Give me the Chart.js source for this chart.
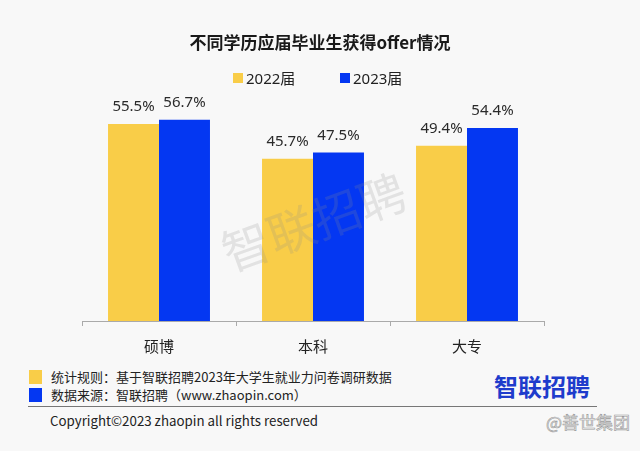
<!DOCTYPE html>
<html>
<head>
<meta charset="utf-8">
<script src="https://cdn.jsdelivr.net/npm/chart.js@4"></script>
<style>
  html, body { margin:0; padding:0; background:#f8f8f8; }
  body { width:640px; height:451px; position:relative; overflow:hidden;
         font-family:"Noto Sans","Noto Sans CJK SC",sans-serif; color:#222; }
  #wrap { position:absolute; left:0; top:0; width:640px; height:360px; }
  .abs { position:absolute; white-space:nowrap; }
  #title { left:0; width:640px; top:31px; text-align:center; font-weight:bold; font-size:17px;
           line-height:22px; color:#1a1a1a; font-family:"Noto Sans CJK SC","Noto Sans",sans-serif; }
  .lg-box { position:absolute; width:10px; height:10px; }
  .lg-txt { font-size:15px; line-height:18px; color:#222; }
  .ft-box { position:absolute; width:13px; height:14px; }
  .ft-txt { font-size:13px; line-height:16px; color:#222; font-family:"Noto Sans CJK SC",sans-serif; }
  #rule { position:absolute; left:28px; top:406px; width:569px; height:1px; background:#777; }
  #copy { left:50px; top:412px; font-size:13.3px; line-height:18px; color:#222; font-family:"Noto Sans CJK SC",sans-serif; }
  #logo { left:494px; top:371px; font-size:24px; line-height:30px; font-weight:bold; color:#1e3ccc;
          font-family:"Noto Sans CJK SC",sans-serif; letter-spacing:0px; }
  #wm2 { left:546px; top:411px; font-size:17px; line-height:22px; color:#f0f0f0;
         -webkit-text-stroke:0.6px #9a9a9a; font-family:"Noto Sans CJK SC",sans-serif; }
</style>
</head>
<body>
<div id="wrap"><canvas id="c" width="640" height="360"></canvas></div>
<div id="title" class="abs">不同学历应届毕业生获得offer情况</div>
<div class="lg-box" style="left:233px;top:73px;background:#f9cd48;"></div>
<div class="abs lg-txt" style="left:246px;top:69px;">2022届</div>
<div class="lg-box" style="left:340px;top:73px;background:#0437f2;"></div>
<div class="abs lg-txt" style="left:353px;top:69px;">2023届</div>

<div class="ft-box" style="left:29px;top:370px;background:#f9cd48;"></div>
<div class="abs ft-txt" style="left:51px;top:369px;">统计规则：基于智联招聘2023年大学生就业力问卷调研数据</div>
<div class="ft-box" style="left:29px;top:388px;background:#0437f2;"></div>
<div class="abs ft-txt" style="left:51px;top:387px;">数据来源：智联招聘（www.zhaopin.com）</div>
<div id="rule"></div>
<div id="copy" class="abs">Copyright©2023 zhaopin all rights reserved</div>
<div id="logo" class="abs">智联招聘</div>
<div id="wm2" class="abs">@善世集团</div>

<script>
const categories = ["硕博", "本科", "大专"];
const seriesNames = ["2022届", "2023届"];
const values2022 = [55.5, 45.7, 49.4];
const values2023 = [56.7, 47.5, 54.4];
const colors = ["#f9cd48", "#0437f2"];

const labelPlugin = {
  id: "valueLabels",
  afterDatasetsDraw(chart) {
    const ctx = chart.ctx;
    ctx.save();
    ctx.font = '15px "Noto Sans", "Noto Sans CJK SC", sans-serif';
    ctx.fillStyle = "#2a2a2a";
    ctx.textAlign = "center";
    ctx.textBaseline = "middle";
    chart.data.datasets.forEach((ds, di) => {
      chart.getDatasetMeta(di).data.forEach((bar, i) => {
        ctx.fillText(ds.data[i].toFixed(1) + "%", bar.x, bar.y - 17);
      });
    });
    ctx.restore();
  },
  afterDraw(chart) {
    const ctx = chart.ctx;
    ctx.save();
    ctx.translate(314, 222);
    ctx.rotate(-20 * Math.PI / 180);
    ctx.font = '48px "Noto Sans CJK SC", sans-serif';
    ctx.fillStyle = "rgba(140,140,140,0.2)";
    ctx.textAlign = "center";
    ctx.textBaseline = "middle";
    ctx.fillText("智联招聘", 0, 0);
    ctx.restore();
  }
};

new Chart(document.getElementById("c"), {
  type: "bar",
  data: {
    labels: categories,
    datasets: [
      { label: seriesNames[0], data: values2022, backgroundColor: colors[0], borderWidth: 0 },
      { label: seriesNames[1], data: values2023, backgroundColor: colors[1], borderWidth: 0 }
    ]
  },
  options: {
    responsive: false,
    animation: false,
    events: [],
    layout: { padding: { top: 108, left: 82, right: 96, bottom: 0 } },
    plugins: { legend: { display: false }, title: { display: false }, tooltip: { enabled: false } },
    datasets: { bar: { categoryPercentage: 0.662, barPercentage: 1.0 } },
    scales: {
      x: {
        offset: true,
        afterFit(scale) { scale.height = 39; },
        grid: { display: true, offset: true, drawOnChartArea: false, drawTicks: true, tickLength: 5, color: "#aaaaaa" },
        border: { display: true, color: "#aaaaaa", width: 1 },
        ticks: { padding: 11, color: "#222", font: { size: 15, family: '"Noto Sans CJK SC", sans-serif' } }
      },
      y: {
        display: false,
        min: 0, max: 60
      }
    }
  },
  plugins: [labelPlugin]
});
</script>
</body>
</html>
